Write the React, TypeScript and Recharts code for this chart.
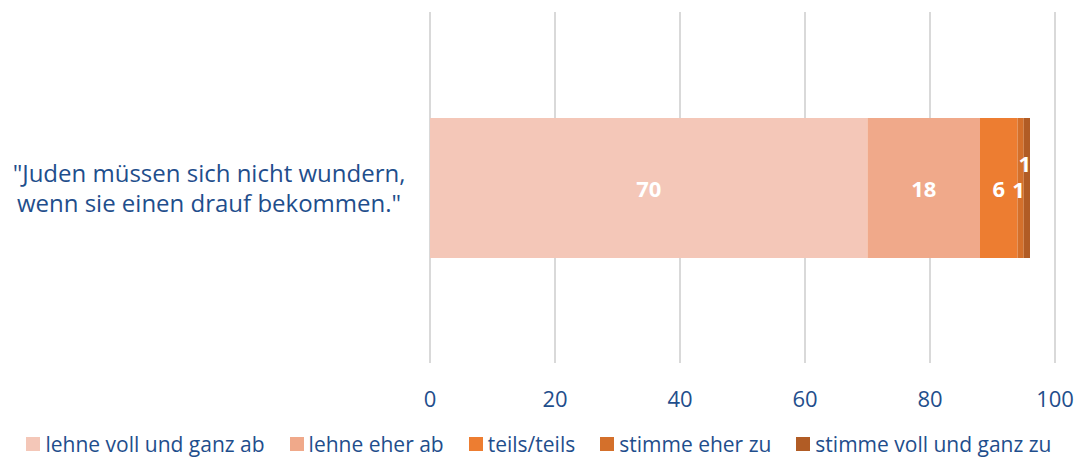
import React from "react";
import {
  BarChart, Bar, XAxis, YAxis, CartesianGrid, Legend, LabelList,
} from "recharts";

const categories = ['"Juden müssen sich nicht wundern,|wenn sie einen drauf bekommen."'];
const seriesNames = [
  "lehne voll und ganz ab",
  "lehne eher ab",
  "teils/teils",
  "stimme eher zu",
  "stimme voll und ganz zu",
];
const seriesValues = [[70], [18], [6], [1], [1]];
const xTicks = [0, 20, 40, 60, 80, 100];

const COLORS = ["#F4C7B8", "#F0A98A", "#ED7D31", "#D4702B", "#B15C25"];
const TEXT = "#1F4E8C";
const FONT = "'Open Sans', sans-serif";

const data = categories.map((c, i) => {
  const row: Record<string, string | number> = { name: c };
  seriesNames.forEach((s, k) => {
    row["s" + k] = seriesValues[k][i];
  });
  return row;
});

// small segments get nudged like the original's overlapping labels
const LABEL_SHIFT = [
  { dx: 0, dy: 0 },
  { dx: 0, dy: 0 },
  { dx: 0, dy: 0 },
  { dx: -2, dy: 1 },
  { dx: -2, dy: -25 },
];

function CategoryTick(props: any) {
  const { y, payload } = props;
  const lines = String(payload.value).split("|");
  return (
    <g>
      {lines.map((l, i) => (
        <text
          key={i}
          x={209}
          y={y + (i - (lines.length - 1) / 2) * 30}
          textAnchor="middle"
          dominantBaseline="central"
          fill={TEXT}
          fontSize={24}
          fontFamily={FONT}
        >
          {l}
        </text>
      ))}
    </g>
  );
}

function makeLabel(k: number) {
  return (props: any) => {
    const { x, y, width, height, value } = props;
    const s = LABEL_SHIFT[k];
    return (
      <text
        x={x + width / 2 + s.dx}
        y={y + height / 2 + s.dy}
        textAnchor="middle"
        dominantBaseline="central"
        fill="#fff"
        fontWeight="bold"
        fontSize={22}
        fontFamily={FONT}
      >
        {value}
      </text>
    );
  };
}

function LegendContent() {
  return (
    <div
      style={{
        display: "flex",
        justifyContent: "center",
        gap: 25,
        fontFamily: FONT,
        fontSize: 21,
        lineHeight: "26px",
        color: TEXT,
        whiteSpace: "nowrap",
      }}
    >
      {seriesNames.map((n, k) => (
        <div key={n} style={{ display: "flex", alignItems: "center" }}>
          <span
            style={{
              display: "inline-block",
              width: 14,
              height: 14,
              background: COLORS[k],
              marginRight: 5,
            }}
          />
          <span>{n}</span>
        </div>
      ))}
    </div>
  );
}

export default function App() {
  return (
    <div style={{ position: "absolute", left: 0, top: 0, background: "#fff" }}>
      <BarChart
        width={1078}
        height={457}
        data={data}
        layout="vertical"
        margin={{ top: 12, right: 23, bottom: 38, left: 0 }}
      >
        <CartesianGrid horizontal={false} stroke="#D9D9D9" strokeWidth={2} />
        <XAxis
          type="number"
          domain={[0, 100]}
          ticks={xTicks}
          axisLine={false}
          tickLine={false}
          height={30}
          tick={{ fill: TEXT, fontSize: 22, fontFamily: FONT }}
          tickMargin={22}
        />
        <YAxis
          type="category"
          dataKey="name"
          width={430}
          axisLine={false}
          tickLine={false}
          tick={<CategoryTick />}
        />
        <Legend
          content={<LegendContent />}
          verticalAlign="bottom"
          wrapperStyle={{ bottom: 0, left: 0, width: 1078 }}
        />
        {seriesNames.map((n, k) => (
          <Bar
            key={n}
            dataKey={"s" + k}
            name={n}
            stackId="a"
            fill={COLORS[k]}
            barSize={140}
            isAnimationActive={false}
          >
            <LabelList dataKey={"s" + k} content={makeLabel(k)} />
          </Bar>
        ))}
      </BarChart>
    </div>
  );
}
